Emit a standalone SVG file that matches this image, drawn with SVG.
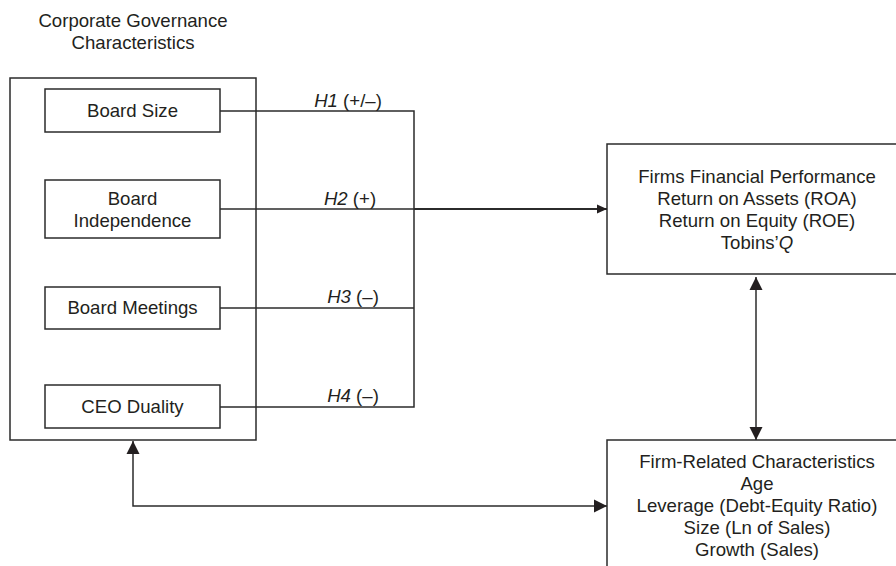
<svg xmlns="http://www.w3.org/2000/svg" width="896" height="566" viewBox="0 0 896 566">
<style>
text{font-family:"Liberation Sans",Arial,sans-serif;font-size:18.6px;fill:#231f20;text-anchor:middle}
.box{fill:none;stroke:#2b2b2b;stroke-width:1.5}
.ln{fill:none;stroke:#2b2b2b;stroke-width:1.5}
.thick{stroke-width:2}
.it{font-style:italic}
</style>
<defs>
<marker id="ah" viewBox="0 0 10 10" refX="10" refY="5" markerWidth="10" markerHeight="10" markerUnits="userSpaceOnUse" orient="auto-start-reverse">
<path d="M0,0.5 L10,5 L0,9.5 Z" fill="#231f20"/>
</marker>
<marker id="ah2" viewBox="0 0 13 14" refX="13" refY="7" markerWidth="13" markerHeight="14" markerUnits="userSpaceOnUse" orient="auto-start-reverse">
<path d="M0,0.5 L13,7 L0,13.5 Z" fill="#231f20"/>
</marker>
</defs>
<rect width="896" height="566" fill="#ffffff"/>

<g id="title">
<text x="133" y="27">Corporate Governance</text>
<text x="133" y="49">Characteristics</text>
</g>

<g id="governance">
<rect class="box" x="10" y="78" width="246" height="362"/>
</g>

<g id="board-size">
<rect class="box" x="45" y="89" width="175" height="43"/>
<text x="132.5" y="117">Board Size</text>
</g>

<g id="board-independence">
<rect class="box" x="45" y="180" width="175" height="58"/>
<text x="132.5" y="205">Board</text>
<text x="132.5" y="227">Independence</text>
</g>

<g id="board-meetings">
<rect class="box" x="45" y="287" width="175" height="42"/>
<text x="132.5" y="314">Board Meetings</text>
</g>

<g id="ceo-duality">
<rect class="box" x="45" y="385" width="175" height="43"/>
<text x="132.5" y="413">CEO Duality</text>
</g>

<g id="performance">
<path class="box" d="M897 144 H607 V274 H897"/>
<text x="757" y="183">Firms Financial Performance</text>
<text x="757" y="205">Return on Assets (ROA)</text>
<text x="757" y="227">Return on Equity (ROE)</text>
<text x="757" y="249">Tobins’<tspan class="it">Q</tspan></text>
</g>

<g id="firm-characteristics">
<path class="box" d="M897 440 H607 V570"/>
<text x="757" y="468">Firm-Related Characteristics</text>
<text x="757" y="490">Age</text>
<text x="757" y="512">Leverage (Debt-Equity Ratio)</text>
<text x="757" y="534">Size (Ln of Sales)</text>
<text x="757" y="556">Growth (Sales)</text>
</g>

<g id="connectors">
<path class="ln" d="M220 111 H414 V407 H220"/>
<path class="ln" d="M220 209 H414"/>
<path class="ln" d="M220 308 H414"/>
<path class="ln thick" d="M414 209 H607" marker-end="url(#ah)"/>
<path class="ln" d="M756 277 V440" marker-start="url(#ah2)" marker-end="url(#ah2)"/>
<path class="ln" d="M133 441 V506 H607" marker-start="url(#ah2)" marker-end="url(#ah2)"/>
</g>

<g id="labels">
<text x="348" y="107"><tspan class="it">H1</tspan> (+/–)</text>
<text x="350" y="205"><tspan class="it">H2</tspan> (+)</text>
<text x="353" y="303"><tspan class="it">H3</tspan> (–)</text>
<text x="353" y="402"><tspan class="it">H4</tspan> (–)</text>
</g>
</svg>
